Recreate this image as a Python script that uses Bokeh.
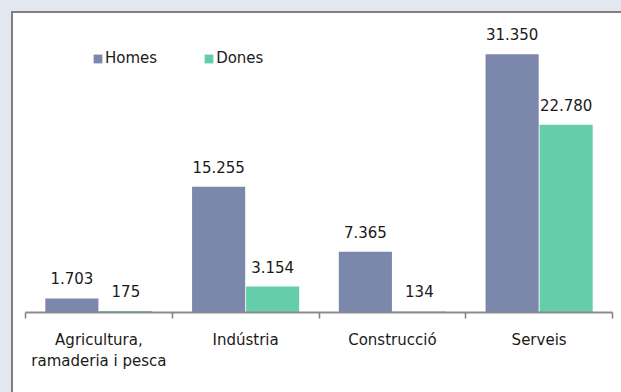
from bokeh.plotting import figure
from bokeh.models import FixedTicker, Range1d, ColumnDataSource
from bokeh.core.properties import value
from bokeh.embed import file_html
from bokeh.resources import INLINE

categories = ["Agricultura,\nramaderia i pesca", "Indústria", "Construcció", "Serveis"]
homes = [1703, 15255, 7365, 31350]
dones = [175, 3154, 134, 22780]
series_names = ["Homes", "Dones"]
colors = ["#7b87ab", "#66cdaa"]

FONT = "DejaVu Sans"
TXT = "#1a1a1a"

def fmt(v):
    return f"{v:,}".replace(",", ".")

centers = [i + 0.5 for i in range(len(categories))]
bar_w = 0.362
off = 0.184

p = figure(width=608, height=379, output_backend="svg", toolbar_location=None,
           x_range=Range1d(0, len(categories)), y_range=Range1d(0, 36290),
           min_border_left=12, min_border_right=9, min_border_top=0, min_border_bottom=80)
p.background_fill_color = "white"
p.border_fill_color = "white"
p.outline_line_color = None
p.grid.visible = False
p.yaxis.visible = False

for name, vals, col, sign in [(series_names[0], homes, colors[0], -1), (series_names[1], dones, colors[1], 1)]:
    src = ColumnDataSource(dict(x=[c + sign * off for c in centers], top=vals,
                                lab=[fmt(v) for v in vals]))
    p.vbar(x="x", top="top", width=bar_w, bottom=0, source=src, fill_color=col,
           line_color=None, legend_label=name)
    p.text(x="x", y="top", text="lab", source=src, text_align="center",
           text_baseline="alphabetic", y_offset=-20, text_font=value(FONT),
           text_font_size="15px", text_color=TXT)

ax = p.xaxis[0]
ax.ticker = FixedTicker(ticks=centers, minor_ticks=list(range(len(categories) + 1)))
ax.major_label_overrides = {c: lab for c, lab in zip(centers, categories)}
ax.major_tick_line_color = None
ax.major_tick_out = 0
ax.major_tick_in = 0
ax.minor_tick_line_color = "#808080"
ax.minor_tick_line_width = 1.5
ax.minor_tick_out = 6
ax.minor_tick_in = 0
ax.axis_line_color = "#8c8c8c"
ax.axis_line_width = 2
ax.major_label_standoff = 12
ax.major_label_text_font = FONT
ax.major_label_text_font_size = "15px"
ax.major_label_text_color = TXT

lg = p.legend[0]
lg.orientation = "horizontal"
lg.location = (67, 245)
lg.background_fill_alpha = 0
lg.border_line_color = None
lg.glyph_width = 11
lg.glyph_height = 11
lg.label_standoff = 2
lg.spacing = 46
lg.padding = 0
lg.margin = 0
lg.label_height = 15
lg.label_text_font = FONT
lg.label_text_font_size = "15px"
lg.label_text_color = TXT

html = file_html(p, INLINE)
css = ("<style>html,body{overflow:hidden;} body{background:#e3e7ef; margin:8px 0 0 8px;}"
       " #frame-box{display:flex; margin:3px 0 0 3px; background:#ffffff;"
       " border-left:2px solid #808080; border-top:2px solid #808080;}</style>")
h_end = html.rfind("</head>")
html = html[:h_end] + css + html[h_end:]
b_start = html.find("<body", html.rfind("</head>"))
b_tag_end = html.find(">", b_start) + 1
html = html[:b_tag_end] + '<div id="frame-box">' + html[b_tag_end:]
b_close = html.rfind("</body>")
html = html[:b_close] + "</div>" + html[b_close:]
open("out.html", "w").write(html)
